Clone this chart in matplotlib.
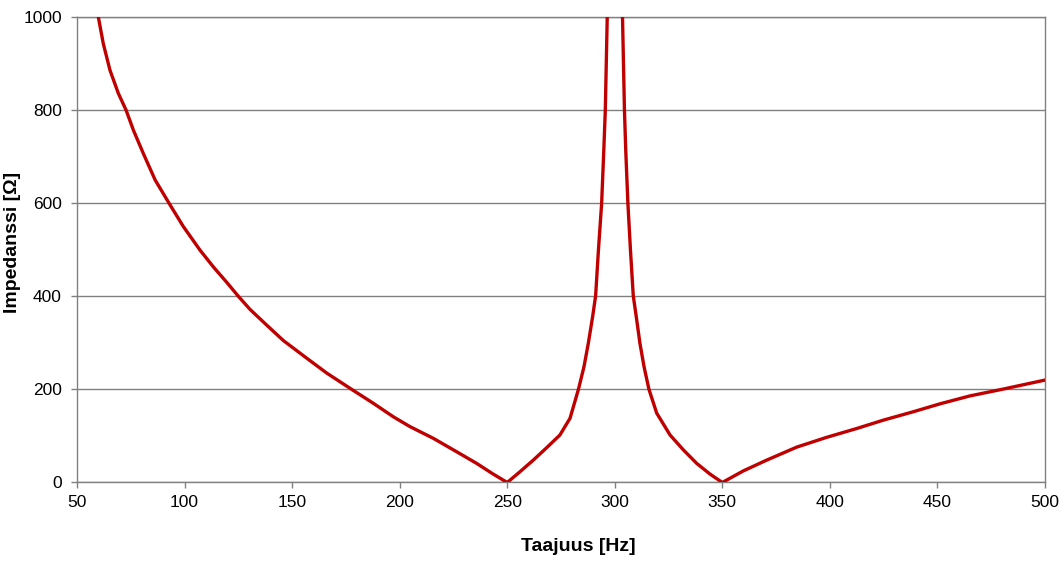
import matplotlib
matplotlib.use("Agg")
import matplotlib.pyplot as plt

# Frequency [Hz] and impedance [Ohm]
freq = [59.9, 62.2, 65.3, 69.2, 72.8, 76.2, 80.8, 86.3, 92.9, 99.4, 107.2,
        113.4, 119.6, 125.0, 130.4, 138.2, 145.9, 156.8, 166.1, 177.7, 187.8,
        197.1, 204.8, 215.6, 226.5, 235.8, 243.5, 250.0,
        255.9, 262.1, 268.4, 274.5, 279.2, 283.1, 285.7, 287.7, 289.7, 291.1,
        292.4, 293.9, 294.9, 295.6, 296.5, 300.0, 303.6, 304.5, 305.1,
        306.1, 307.3, 308.6, 310.0, 311.7, 313.6, 315.9, 319.5, 325.7, 331.9,
        338.1, 344.3, 350.0, 359.8, 370.6, 384.6, 398.5, 412.5, 424.9, 438.8,
        451.2, 465.1, 479.9, 500.0]
impedance = [1000, 943, 886, 836, 800, 757, 707, 650, 599, 550, 499,
             463, 430, 400, 372, 338, 305, 267, 235, 200, 170,
             141, 120, 95, 66, 41, 18, 0,
             23, 48, 75, 102, 138, 200, 249, 299, 356, 401,
             499, 600, 714, 800, 1000, 3000, 1000, 800, 714,
             600, 499, 401, 356, 299, 249, 200, 149, 102, 70,
             41, 18, 0, 25, 48, 76, 97, 116, 134, 152,
             169, 186, 200, 220]

x_ticks = [50, 100, 150, 200, 250, 300, 350, 400, 450, 500]
y_ticks = [0, 200, 400, 600, 800, 1000]

plt.rcParams['font.family'] = ['Liberation Sans', 'DejaVu Sans']

fig = plt.figure(figsize=(10.64, 5.63), dpi=100)
ax = fig.add_axes([0.0724, 0.143, 0.9097, 0.8268])

grid_col = '#808080'
ax.set_xlim(50, 500)
ax.set_ylim(0, 1000)
ax.set_xticks(x_ticks)
ax.set_yticks(y_ticks)
ax.yaxis.grid(True, color=grid_col, linewidth=1.0)
ax.set_axisbelow(True)

ax.plot(freq, impedance, color='#C00000', linewidth=2.4,
        solid_joinstyle='round', solid_capstyle='round', zorder=3)

for s in ax.spines.values():
    s.set_color(grid_col)
    s.set_linewidth(1.0)

ax.tick_params(axis='both', direction='out', length=4, width=1, color=grid_col,
               labelsize=12.5, labelcolor='#000000')
ax.tick_params(axis='x', pad=5)
ax.tick_params(axis='y', pad=7)

ax.set_xlabel('Taajuus [Hz]', fontsize=14, fontweight='bold')
ax.set_ylabel('Impedanssi [Ω]', fontsize=14, fontweight='bold')
ax.xaxis.set_label_coords(0.5176, -0.12)
ax.yaxis.set_label_coords(-0.058, 0.516)

fig.savefig('out.png', dpi=100)
